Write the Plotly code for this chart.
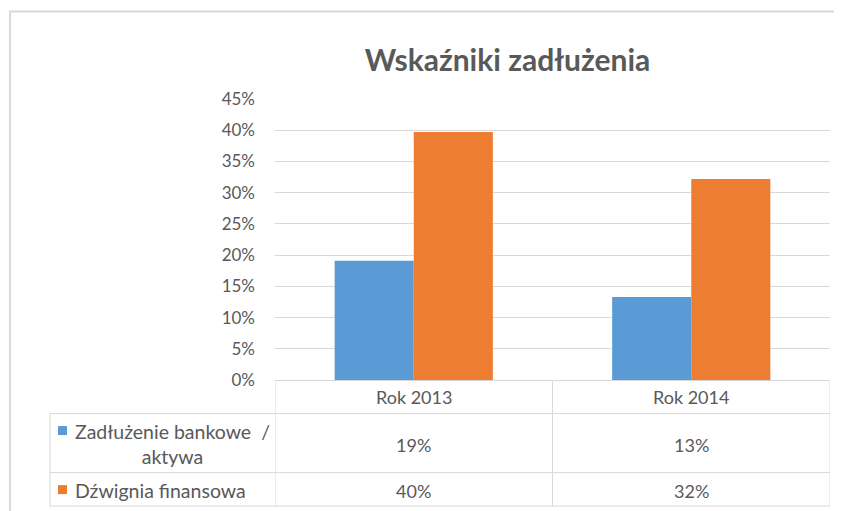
import plotly.graph_objects as go

# ---- data ----
categories = ["Rok 2013", "Rok 2014"]
series_names = ["Zadłużenie bankowe  /<br>aktywa", "Dźwignia finansowa"]
bank_debt_to_assets = [0.191, 0.133]
financial_leverage = [0.397, 0.322]
series_values = [bank_debt_to_assets, financial_leverage]
colors = ["#5B9BD5", "#ED7D31"]
title_text = "Wskaźniki zadłużenia"

# The page body has an 8px margin, so layout positions below are given in
# window pixels and shifted by OFF into figure pixels.
OFF = 8
W, H = 842 - OFF, 511 - OFF
L, R, T, B = 275 - OFF, 830 - OFF, 99.3 - OFF, 380 - OFF  # plot area (figure px)
FONT = "Lato, 'Open Sans', sans-serif"
TXT = "#595959"
GRID = "#d9d9d9"


def px(x):  # window x -> paper
    return (x - OFF - L) / (R - L)


def py(y):  # window y -> paper
    return (B - (y - OFF)) / (B - T)


fig = go.Figure()
for name, vals, col in zip(series_names, series_values, colors):
    fig.add_trace(go.Bar(x=categories, y=vals, name=name.replace("<br>", " "),
                         marker=dict(color=col, line=dict(width=0))))

shapes = []
# outer chart frame
shapes.append(dict(type="rect", xref="paper", yref="paper", x0=px(10), x1=px(860),
                   y0=py(530), y1=py(12), line=dict(color=GRID, width=2)))
# table lines
shapes.append(dict(type="line", xref="paper", yref="paper", x0=px(275), x1=px(830),
                   y0=py(380.5), y1=py(380.5), line=dict(color=GRID, width=1)))
for yl in [413.5, 472.5, 506]:
    shapes.append(dict(type="line", xref="paper", yref="paper", x0=px(50), x1=px(830),
                       y0=py(yl), y1=py(yl), line=dict(color=GRID, width=1)))
for xv in [-0.5, 0.5, 1.5]:
    shapes.append(dict(type="line", xref="x", yref="paper", x0=xv, x1=xv,
                       y0=py(380.5), y1=py(506), line=dict(color=GRID, width=1)))
shapes.append(dict(type="line", xref="paper", yref="paper", x0=px(50), x1=px(50),
                   y0=py(413.5), y1=py(506), line=dict(color=GRID, width=1)))

annotations = []
# header row
for c in categories:
    annotations.append(dict(x=c, xref="x", y=py(397), yref="paper", text=c,
                            showarrow=False, xanchor="center", yanchor="middle",
                            font=dict(family=FONT, size=18, color=TXT)))
# data rows
row_centers = [444, 490]
key_y = [430.5, 489.5]
for i, (name, vals, col) in enumerate(zip(series_names, series_values, colors)):
    shapes.append(dict(type="rect", xref="paper", yref="paper", x0=px(58), x1=px(67),
                       y0=py(key_y[i] + 4.5), y1=py(key_y[i] - 4.5),
                       fillcolor=col, line=dict(width=0)))
    annotations.append(dict(x=px(73), xref="paper", y=py(row_centers[i]), yref="paper",
                            text=name, showarrow=False, xanchor="left", yanchor="middle",
                            align="center",
                            font=dict(family=FONT, size=19.5, color=TXT)))
    for c, v in zip(categories, vals):
        annotations.append(dict(x=c, xref="x", y=py(row_centers[i] + 1), yref="paper",
                                text=f"{round(v * 100):.0f}%", showarrow=False,
                                xanchor="center", yanchor="middle",
                                font=dict(family=FONT, size=18, color=TXT)))

fig.update_layout(
    width=W, height=H,
    margin=dict(l=L, r=W - R, t=T, b=H - B, pad=0),
    paper_bgcolor="white", plot_bgcolor="white",
    barmode="group", bargap=0.43, bargroupgap=0,
    showlegend=False,
    title=dict(text=title_text, x=(507.5 - OFF) / W, xanchor="center",
               y=1 - (60 - OFF) / H, yanchor="middle", yref="container",
               font=dict(family=FONT, size=30, color=TXT, weight="bold")),
    xaxis=dict(showticklabels=False, showgrid=False, zeroline=False, showline=False,
               ticks="", range=[-0.5, 1.5]),
    yaxis=dict(range=[0, 0.45], dtick=0.05, tickformat=".0%", showgrid=True,
               gridcolor=GRID, gridwidth=1, zeroline=False, showline=False,
               ticks="", ticklabelstandoff=19,
               tickfont=dict(family=FONT, size=17, color=TXT)),
    shapes=shapes, annotations=annotations,
)

fig.write_html("out.html")
